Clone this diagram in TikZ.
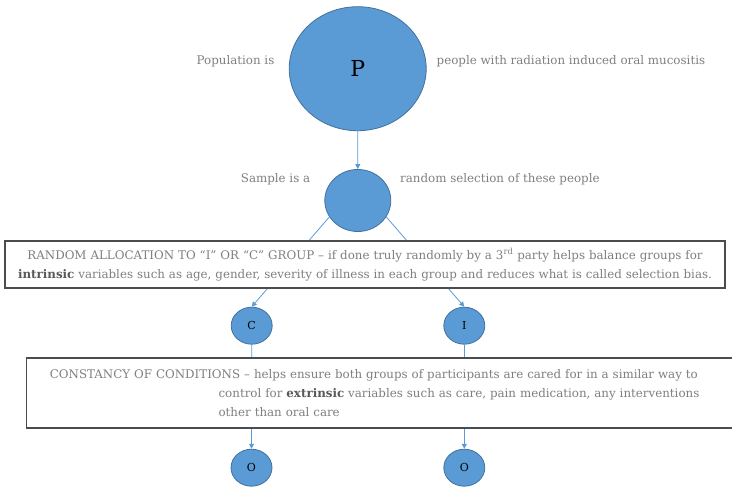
\documentclass[tikz,border=0pt]{standalone}
\usepackage{fontspec}
\setmainfont{DejaVu Serif}
\usepackage{tikz}
\usetikzlibrary{arrows.meta,shapes.geometric}
\definecolor{discfill}{HTML}{5B9BD5}
\definecolor{discline}{HTML}{41719C}
\definecolor{txtgray}{HTML}{7F7F7F}
\newcommand{\bodyfont}{\fontsize{11.85}{19}\selectfont}
\newcommand{\keyword}[1]{\textbf{\color{black!65}#1}}

\begin{document}
\begin{tikzpicture}[>={Triangle[length=5pt,width=5pt]},x=1pt,y=-1pt,
  disc/.style={ellipse,fill=discfill,draw=discline,line width=0.8pt,inner sep=0pt},
  side/.style={text=txtgray,font=\bodyfont,inner sep=0pt,anchor=base west},
  link/.style={->,discfill,line width=0.8pt},
  infobox/.style={draw=black!70,line width=1.2pt,fill=white,text=txtgray,font=\bodyfont}]
  \useasboundingbox (0,0) rectangle (732,487);
  \clip (0,0) rectangle (732,487);
  % population and sample
  \node[disc,minimum width=137pt,minimum height=124pt,font=\fontsize{22}{22}\selectfont] (P) at (357.7,68.7) {P};
  \node[disc,minimum width=66pt,minimum height=62pt] (S) at (357.8,200.5) {};
  \node[side] (poplbl) at (196.5,65) {Population is};
  \node[side] (popdesc) at (436.5,65) {people with radiation induced oral mucositis};
  \node[side] (samplbl) at (240.7,182.5) {Sample is a};
  \node[side] (sampdesc) at (400,182.5) {random selection of these people};
  % groups and outcomes
  \node[disc,minimum width=41pt,minimum height=37pt,font=\fontsize{11}{11}\selectfont] (C) at (251.7,325.7) {C};
  \node[disc,minimum width=41pt,minimum height=37pt,font=\fontsize{11}{11}\selectfont] (I) at (464.3,325.7) {I};
  \node[disc,minimum width=41pt,minimum height=37pt,font=\fontsize{11}{11}\selectfont] (OC) at (251.5,467.7) {O};
  \node[disc,minimum width=41pt,minimum height=37pt,font=\fontsize{11}{11}\selectfont] (OI) at (464.3,467.7) {O};
  % connectors (boxes are drawn over them)
  \draw[link] (P) -- (S);
  \draw[link] (S.210) -- (C.north);
  \draw[link] (S.330) -- (I.north);
  \draw[link] (C) -- (OC);
  \draw[link] (I) -- (OI);
  % explanation boxes
  \node[infobox,minimum width=720pt,minimum height=47pt,text width=716pt,align=center,inner sep=0pt] (alloc) at (365,264.5)
    {RANDOM ALLOCATION TO “I” OR “C” GROUP – if done truly randomly by a 3\textsuperscript{rd} party helps balance groups for\\
     \keyword{intrinsic} variables such as age, gender, severity of illness in each group and reduces what is called selection bias.};
  \node[infobox,anchor=north west,minimum height=70pt,text width=700pt,inner xsep=23.3pt,inner ysep=0pt,align=left] (const) at (26,357.3)
    {CONSTANCY OF CONDITIONS – helps ensure both groups of participants are cared for in a similar way to\\
     \hspace*{168.7pt}control for \keyword{extrinsic} variables such as care, pain medication, any interventions\\
     \hspace*{168.7pt}other than oral care};
\end{tikzpicture}
\end{document}
